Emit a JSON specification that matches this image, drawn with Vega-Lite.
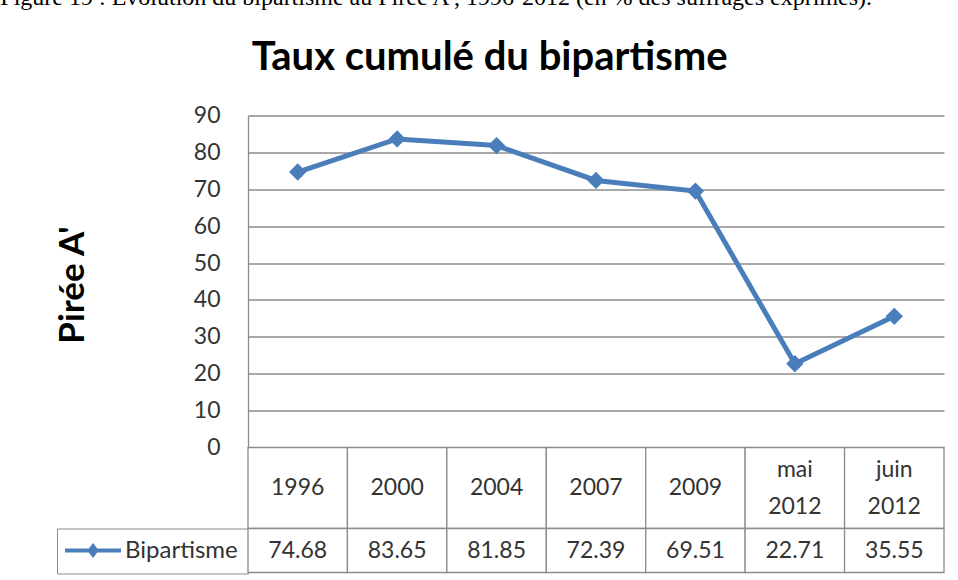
{
  "$schema": "https://vega.github.io/schema/vega-lite/v6.json",
  "background": "white",
  "padding": {"left": 0, "top": -14.5, "right": 4, "bottom": 4},
  "title": {
    "text": "Figure 19 : Évolution du bipartisme au Pirée A', 1996-2012 (en % des suffrages exprimés).",
    "anchor": "start",
    "frame": "bounds",
    "font": "Liberation Serif",
    "fontSize": 24,
    "fontWeight": "normal",
    "color": "black",
    "dx": -55,
    "offset": 27.5
  },
  "spacing": 0,
  "bounds": "flush",
  "resolve": {"scale": {"color": "independent"}, "legend": {"color": "independent"}},
  "config": {"view": {"stroke": null}, "font": "Lato"},
  "datasets": {
    "d": [
      {"periode": "1996", "label": "1996", "value": 74.68, "serie": "Bipartisme"},
      {"periode": "2000", "label": "2000", "value": 83.65, "serie": "Bipartisme"},
      {"periode": "2004", "label": "2004", "value": 81.85, "serie": "Bipartisme"},
      {"periode": "2007", "label": "2007", "value": 72.39, "serie": "Bipartisme"},
      {"periode": "2009", "label": "2009", "value": 69.51, "serie": "Bipartisme"},
      {"periode": "mai 2012", "label": "mai\n2012", "value": 22.71, "serie": "Bipartisme"},
      {"periode": "juin 2012", "label": "juin\n2012", "value": 35.55, "serie": "Bipartisme"}
    ]
  },
  "vconcat": [
    {
      "width": 696,
      "height": 332,
      "title": {
        "text": "Taux cumulé du bipartisme",
        "font": "Lato",
        "fontSize": 40,
        "fontWeight": "bold",
        "color": "black",
        "anchor": "middle",
        "frame": "bounds",
        "dx": -10,
        "offset": 27
      },
      "data": {"name": "d"},
      "encoding": {
        "x": {
          "field": "periode",
          "type": "ordinal",
          "sort": null,
          "scale": {"type": "band", "paddingInner": 0, "paddingOuter": 0},
          "axis": null
        },
        "y": {
          "field": "value",
          "type": "quantitative",
          "scale": {"domain": [0, 90], "nice": false},
          "axis": {
            "values": [0, 10, 20, 30, 40, 50, 60, 70, 80, 90],
            "title": "Pirée A'",
            "titleFont": "Lato",
            "titleFontSize": 35,
            "titleFontWeight": "bold",
            "titleColor": "black",
            "titlePadding": 103,
            "titleY": 169,
            "labelFont": "Lato",
            "labelFontSize": 23,
            "labelColor": "#333333",
            "labelPadding": 28,
            "ticks": false,
            "domainColor": "#8c8c8c",
            "domainWidth": 1.3,
            "gridColor": "#8c8c8c",
            "gridWidth": 1.3
          }
        },
        "color": {
          "field": "serie",
          "type": "nominal",
          "scale": {"range": ["#4a7ebb"]},
          "legend": {
            "title": null,
            "orient": "none",
            "legendX": -191,
            "legendY": 413,
            "padding": 10,
            "strokeColor": "#8c8c8c",
            "symbolType": "M-2.8,0L2.8,0M0,-0.42L0.32,0L0,0.42L-0.32,0Z",
            "symbolSize": 400,
            "symbolStrokeWidth": 4,
            "symbolFillColor": "#4a7ebb",
            "symbolStrokeColor": "#4a7ebb",
            "symbolOpacity": 1,
            "symbolOffset": 14,
            "labelOffset": 20,
            "labelFont": "Lato",
            "labelFontSize": 24,
            "labelColor": "#333333",
            "labelLimit": 400
          }
        }
      },
      "mark": {
        "type": "line",
        "strokeWidth": 5,
        "point": {"shape": "diamond", "size": 300, "filled": true, "opacity": 1}
      }
    },
    {
      "width": 696,
      "height": 81,
      "data": {"name": "d"},
      "encoding": {
        "x": {
          "field": "periode",
          "type": "ordinal",
          "sort": null,
          "scale": {"type": "band", "paddingInner": 0, "paddingOuter": 0},
          "axis": null
        }
      },
      "layer": [
        {"mark": {"type": "rect", "fill": "white", "stroke": "#8c8c8c", "strokeWidth": 1.3}},
        {
          "transform": [{"filter": "indexof(datum.label, '\\n') < 0"}],
          "mark": {"type": "text", "font": "Lato", "fontSize": 23, "color": "#333333", "baseline": "middle"},
          "encoding": {"text": {"field": "label"}}
        },
        {
          "transform": [{"filter": "indexof(datum.label, '\\n') >= 0"}],
          "mark": {"type": "text", "font": "Lato", "fontSize": 23, "color": "#333333", "lineBreak": "\n", "lineHeight": 37, "baseline": "middle", "dy": -18.5},
          "encoding": {"text": {"field": "label"}}
        }
      ]
    },
    {
      "width": 696,
      "height": 44,
      "data": {"name": "d"},
      "encoding": {
        "x": {
          "field": "periode",
          "type": "ordinal",
          "sort": null,
          "scale": {"type": "band", "paddingInner": 0, "paddingOuter": 0},
          "axis": null
        }
      },
      "layer": [
        {"mark": {"type": "rect", "fill": "white", "stroke": "#8c8c8c", "strokeWidth": 1.3}},
        {
          "mark": {"type": "text", "font": "Lato", "fontSize": 23, "color": "#333333", "baseline": "middle"},
          "encoding": {"text": {"field": "value", "type": "quantitative", "format": ".2f"}}
        }
      ]
    }
  ]
}
